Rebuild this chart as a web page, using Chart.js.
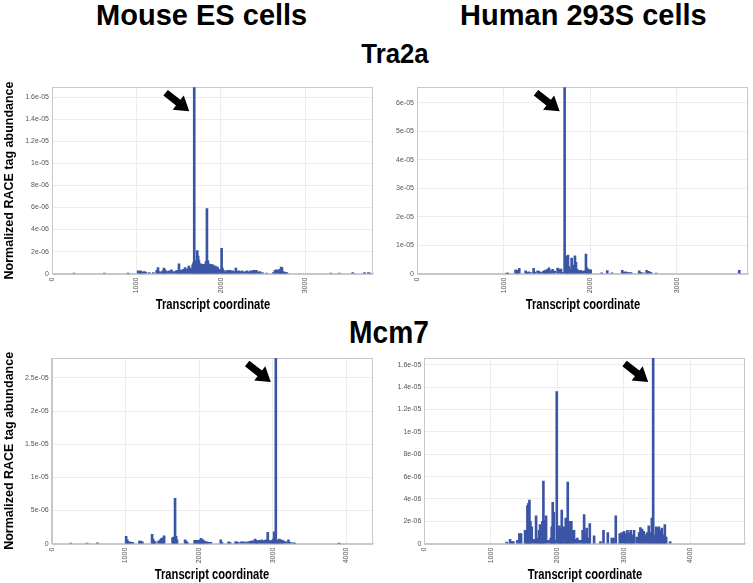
<!DOCTYPE html>
<html><head><meta charset="utf-8">
<script src="https://cdn.jsdelivr.net/npm/chart.js@4"></script>
<style>
html,body{margin:0;padding:0;background:#fff;}
body{width:753px;height:583px;position:relative;overflow:hidden;font-family:'Liberation Sans',Arial,sans-serif;}
.t{position:absolute;font-weight:bold;color:#000;white-space:nowrap;text-align:center;width:400px;transform-origin:50% 50%;}
.xt{position:absolute;font-weight:bold;color:#000;white-space:nowrap;text-align:center;width:300px;font-size:14px;line-height:14px;transform:scaleX(0.8);transform-origin:50% 50%;}
canvas{position:absolute;}
</style></head><body>
<div class="t" style="left:1.7px;top:0.5px;font-size:29px;line-height:29px;">Mouse ES cells</div>
<div class="t" style="left:383.4px;top:0.5px;font-size:29px;line-height:29px;">Human 293S cells</div>
<div class="t" style="left:195px;top:40px;font-size:28px;line-height:28px;transform:scaleX(0.92);">Tra2a</div>
<div class="t" style="left:189px;top:316px;font-size:32px;line-height:32px;transform:scaleX(0.88);">Mcm7</div>
<canvas id="cA" width="380" height="240" style="left:0;top:80px;"></canvas>
<canvas id="cB" width="378" height="240" style="left:375px;top:80px;"></canvas>
<canvas id="cC" width="380" height="233" style="left:0;top:350px;"></canvas>
<canvas id="cD" width="378" height="233" style="left:375px;top:350px;"></canvas>
<script>
// ---- Data (values in units of 1e-6) ----
const UNIT = 1e-6;

const mouseTra2aPos = [260,620,900,1020,1035,1050,1070,1090,1110,1150,1200,1240,1255,1270,1290,1310,1325,1335,1350,1370,1390,1415,1430,1450,1470,1490,1503,1515,1530,1545,1560,1575,1590,1605,1620,1635,1650,1665,1676,1684,1695,1705,1720,1730,1740,1752,1765,1778,1790,1800,1812,1822,1834,1845,1858,1870,1882,1895,1908,1920,1935,1948,1960,1975,1990,2008,2018,2030,2050,2065,2080,2095,2110,2125,2140,2160,2177,2190,2210,2230,2250,2270,2290,2310,2330,2350,2370,2385,2400,2420,2440,2460,2490,2540,2620,2640,2655,2670,2685,2700,2712,2722,2735,2750,2765,2780,3300,3400,3560,3700,3745,3765];
const mouseTra2aVal = [0.05,0.05,0.03,0.25,0.2,0.25,0.15,0.2,0.15,0.1,0.1,0.3,0.55,0.2,0.15,0.25,0.5,0.35,0.25,0.2,0.25,0.35,0.15,0.2,0.25,0.3,0.9,0.3,0.3,0.35,0.4,0.55,0.4,0.45,0.7,0.5,0.45,0.8,1.0,16.9,1.0,1.2,2.1,1.6,1.2,0.8,0.9,0.7,0.85,0.6,0.8,1.1,5.9,1.2,0.9,0.6,0.85,0.6,0.8,0.5,0.7,0.4,0.6,0.3,0.4,2.3,0.5,0.3,0.15,0.25,0.3,0.25,0.3,0.2,0.25,0.2,0.5,0.2,0.25,0.2,0.25,0.15,0.2,0.25,0.15,0.25,0.2,0.3,0.25,0.3,0.15,0.2,0.1,0.05,0.1,0.3,0.35,0.3,0.35,0.4,0.6,0.55,0.2,0.15,0.1,0.1,0.05,0.05,0.1,0.1,0.1,0.05];

const humanTra2aPos = [1035,1050,1138,1150,1160,1180,1254,1270,1290,1315,1346,1360,1392,1410,1430,1458,1470,1485,1508,1523,1540,1565,1590,1623,1640,1662,1680,1704,1719,1730,1742,1755,1770,1785,1800,1823,1835,1850,1870,1890,1910,1930,1950,1962,1975,1992,2005,2131,2196,2250,2369,2385,2410,2440,2470,2565,2580,2610,2650,2675,2700,2760,3719];
const humanTra2aVal = [0.1,0.1,1.4,0.6,1.2,1.9,1.0,0.5,0.7,0.4,1.9,0.6,1.0,0.8,0.5,0.8,1.0,1.3,1.5,2.1,1.1,1.5,0.9,2.0,1.6,1.6,0.5,65.5,6.0,2.0,6.5,2.5,1.5,5.5,3.0,6.3,4.0,1.5,1.0,1.2,0.8,1.0,6.9,2.1,1.5,1.3,1.4,0.3,1.1,0.3,1.2,0.6,0.7,0.5,0.4,1.0,0.5,0.3,1.2,0.8,0.5,0.2,1.2];

const mouseMcm7Pos = [260,480,620,1010,1025,1040,1060,1080,1100,1190,1210,1230,1362,1375,1390,1405,1450,1470,1490,1510,1525,1640,1655,1674,1688,1700,1810,1825,1840,1940,1955,1970,1985,2000,2015,2027,2040,2055,2070,2090,2110,2130,2160,2294,2310,2400,2420,2495,2510,2530,2570,2600,2630,2660,2690,2710,2730,2760,2775,2790,2810,2830,2850,2870,2890,2910,2932,2950,2970,2990,3005,3018,3041,3055,3070,3090,3110,3130,3150,3180,3213,3240,3280,3300,3900];
const mouseMcm7Val = [0.1,0.1,0.15,1.1,0.6,0.3,0.3,0.2,0.2,0.4,0.4,0.3,1.4,0.7,0.4,0.3,0.4,0.6,0.8,0.9,1.2,0.9,1.0,6.85,1.1,0.6,0.6,0.4,0.2,0.5,0.5,0.4,0.5,0.4,0.6,0.8,0.5,0.6,0.4,0.3,0.3,0.2,0.2,0.6,0.2,0.3,0.2,0.3,0.3,0.2,0.3,0.3,0.25,0.3,0.35,0.4,0.45,0.7,0.5,0.4,0.5,0.4,0.6,0.4,0.5,0.6,1.7,0.5,0.4,0.5,0.7,1.8,28,0.6,0.5,0.7,0.6,0.5,0.4,0.3,0.6,0.2,0.15,0.1,0.05];

const humanMcm7Pos = [1239,1289,1314,1339,1399,1429,1454,1515,1530,1550,1565,1580,1595,1615,1640,1665,1680,1700,1725,1740,1755,1775,1790,1810,1830,1865,1900,1915,1930,1945,1965,1991,2015,2030,2050,2066,2080,2105,2126,2140,2156,2170,2191,2210,2230,2250,2275,2300,2325,2355,2380,2402,2420,2440,2465,2487,2552,2648,2693,2758,2818,2843,2878,2938,2968,3003,3028,3053,3083,3103,3128,3153,3193,3228,3248,3273,3298,3323,3348,3374,3395,3420,3440,3460,3485,3505,3525,3545,3570,3595,3615,3635,3695];
const humanMcm7Val = [0.15,0.4,0.2,0.2,0.3,0.9,0.9,1.2,1.2,3.4,3.6,3.9,2.0,1.5,0.4,0.4,2.5,0.5,1.2,1.7,1.2,2.0,5.6,2.1,2.5,0.3,0.5,1.5,3.7,2.8,0.3,13.6,0.8,1.6,1.3,3.0,1.0,1.5,2.3,1.4,5.5,2.0,2.0,2.0,1.2,1.2,0.4,0.5,0.3,0.3,1.2,2.6,1.0,1.4,0.5,1.8,0.7,0.2,1.2,1.0,0.5,0.5,2.5,0.9,1.0,1.1,0.9,1.2,1.0,1.2,0.8,1.2,0.6,1.0,1.45,1.3,1.1,0.8,1.0,1.6,1.0,2.3,16.6,0.8,1.5,1.4,1.5,1.2,1.4,0.8,1.7,0.6,0.2];

// axis ranges and tick labels
const xMaxTra2aMouse = 3800, xMaxTra2aHuman = 3820, xMaxMcm7Mouse = 4360, xMaxMcm7Human = 4820;
const xTicksTra2a = [0,1000,2000,3000];
const xTicksMcm7 = [0,1000,2000,3000,4000];
const yTicksMouseTra2a = [0,2,4,6,8,10,12,14,16];
const yTicksHumanTra2a = [0,10,20,30,40,50,60];
const yTicksMouseMcm7 = [0,5,10,15,20,25];
const yTicksHumanMcm7 = [0,2,4,6,8,10,12,14,16];

const Y_TITLE = 'Normalized RACE tag abundance';
const X_TITLE = 'Transcript coordinate';

// ---- rendering ----
function fmtExp(v){
  if (v === 0) return '0';
  let s = Number((v*UNIT).toPrecision(3)).toExponential();
  return s.replace(/e([+-])(\d)$/, 'e$10$2');
}

const framePlugin = {
  id:'frame',
  beforeDatasetsDraw(chart){
    const a = chart.chartArea, c = chart.ctx;
    c.save();
    c.strokeStyle = '#c8c8c8'; c.lineWidth = 1;
    c.strokeRect(Math.round(a.left)+0.5, Math.round(a.top)+0.5, Math.round(a.right-a.left)-1, Math.round(a.bottom-a.top));
    c.restore();
  }
};

const arrowPlugin = {
  id:'peakArrow',
  afterDatasetsDraw(chart){
    const data = chart.data.datasets[0].data;
    let mi = 0;
    data.forEach((d,i)=>{ if (d.y > data[mi].y) mi = i; });
    const bar = chart.getDatasetMeta(0).data[mi];
    const tx = bar.x - 5, ty = chart.chartArea.top + 24;
    const th = 38*Math.PI/180;
    const dx = Math.cos(th), dy = Math.sin(th);
    const nx = -dy, ny = dx;
    const L = 30, hl = 14, hw = 9, sw = 3.6;
    const bx = tx - dx*hl, by = ty - dy*hl;
    const ex = tx - dx*L, ey = ty - dy*L;
    const c = chart.ctx;
    c.save();
    c.fillStyle = '#000';
    c.beginPath();
    c.moveTo(tx,ty);
    c.lineTo(bx+nx*hw, by+ny*hw);
    c.lineTo(bx+nx*sw, by+ny*sw);
    c.lineTo(ex+nx*sw, ey+ny*sw);
    c.lineTo(ex-nx*sw, ey-ny*sw);
    c.lineTo(bx-nx*sw, by-ny*sw);
    c.lineTo(bx-nx*hw, by-ny*hw);
    c.closePath();
    c.fill();
    c.restore();
  }
};

function makePanel(id, pos, vals, xMax, xTicks, yTicks, lay){
  const tickFont = {family:"'Liberation Sans', Arial, sans-serif", size:7};
  const cv = document.getElementById(id);
  const chart = new Chart(cv, {
    type:'bar',
    data:{datasets:[{
      data: pos.map((x,i)=>({x:x, y:vals[i]})),
      backgroundColor:'#3b55a6',
      borderWidth:0,
      barThickness:2
    }]},
    options:{
      responsive:false, animation:false,
      layout:{padding:{top:lay.pt, right:lay.pr, left:0, bottom:0}},
      plugins:{legend:{display:false}, tooltip:{enabled:false}},
      scales:{
        x:{
          type:'linear', min:0, max:xMax, offset:false,
          grid:{color:'#ececec', drawTicks:false, offset:false},
          border:{color:'#c8c8c8'},
          afterBuildTicks: ax => { ax.ticks = xTicks.map(v=>({value:v})); },
          afterFit: ax => { ax.height = lay.xh; },
          ticks:{minRotation:90, maxRotation:90, autoSkip:false, padding:4, color:'#555', font:tickFont,
                 callback: v => String(v)},
          title:{display:false}
        },
        y:{
          type:'linear', min:0, max:Math.max(...vals),
          grid:{color:'#ececec', drawTicks:false},
          border:{color:'#c8c8c8'},
          afterBuildTicks: ax => { ax.ticks = yTicks.map(v=>({value:v})); },
          afterFit: ax => { ax.width = lay.yw; },
          ticks:{padding:3, color:'#555', font:tickFont, callback: v => fmtExp(v)},
          title:{display:lay.ytitle, text:Y_TITLE, color:'#000', padding:{top:2,bottom:0},
                 font:{family:"'Liberation Sans', Arial, sans-serif", weight:'bold', size:12.5}}
        }
      }
    },
    plugins:[framePlugin, arrowPlugin]
  });
  // x-axis title (condensed bold text), centred under the plot area
  const a = chart.chartArea;
  const d = document.createElement('div');
  d.className = 'xt';
  d.textContent = X_TITLE;
  const cx = cv.offsetLeft + (a.left + a.right)/2;
  d.style.left = (cx - 150) + 'px';
  d.style.top = (cv.offsetTop + a.bottom + lay.xtOff) + 'px';
  document.body.appendChild(d);
}

makePanel('cA', mouseTra2aPos, mouseTra2aVal, xMaxTra2aMouse, xTicksTra2a, yTicksMouseTra2a,
  {pt:7, pr:7, yw:52, xh:46.3, xtOff:22.8, ytitle:true});
makePanel('cB', humanTra2aPos, humanTra2aVal, xMaxTra2aHuman, xTicksTra2a, yTicksHumanTra2a,
  {pt:7, pr:5, yw:42, xh:46.3, xtOff:22.8, ytitle:false});
makePanel('cC', mouseMcm7Pos, mouseMcm7Val, xMaxMcm7Mouse, xTicksMcm7, yTicksMouseMcm7,
  {pt:8, pr:7, yw:51.7, xh:39.3, xtOff:22.8, ytitle:true});
makePanel('cD', humanMcm7Pos, humanMcm7Val, xMaxMcm7Human, xTicksMcm7, yTicksHumanMcm7,
  {pt:8, pr:8, yw:49.3, xh:39.3, xtOff:22.8, ytitle:false});
</script>
</body></html>
